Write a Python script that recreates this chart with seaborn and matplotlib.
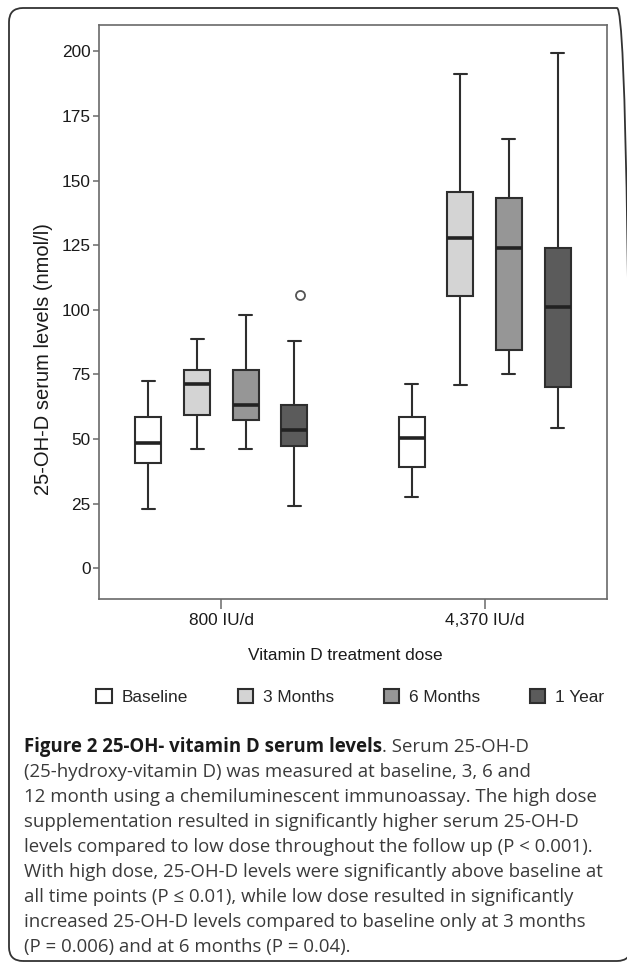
# libraries
import pandas as pd
import matplotlib.pyplot as plt
import seaborn as sns
from matplotlib.patches import FancyBboxPatch

# data
doses = ['800 IU/d', '4,370 IU/d']
times = ['Baseline', '3 Months', '6 Months', '1 Year']
box_colors = ['#ffffff', '#d4d4d4', '#969696', '#5b5b5b']

# five-number summaries per box: whisker low, Q1, median, Q3, whisker high
low_dose = [
    [22.9, 40.6, 48.6, 58.6, 72.5],
    [46.0, 59.4, 71.2, 76.6, 88.6],
    [46.0, 57.3, 63.1, 76.6, 97.9],
    [24.2, 47.4, 53.5, 63.3, 87.8],
]
high_dose = [
    [27.6, 39.2, 50.5, 58.6, 71.2],
    [70.8, 105.5, 127.7, 145.5, 191.2],
    [75.2, 84.4, 123.9, 143.1, 166.0],
    [54.3, 70.3, 101.0, 123.9, 199.3],
]

# single outlier
outlier_dose = ['800 IU/d']
outlier_time = ['1 Year']
outlier_value = [105.7]

yticks = [0, 25, 50, 75, 100, 125, 150, 175, 200]

caption_bold = 'Figure 2 25-OH- vitamin D serum levels'
caption_lines = [
    '. Serum 25-OH-D',
    '(25-hydroxy-vitamin D) was measured at baseline, 3, 6 and',
    '12 month using a chemiluminescent immunoassay. The high dose',
    'supplementation resulted in significantly higher serum 25-OH-D',
    'levels compared to low dose throughout the follow up (P < 0.001).',
    'With high dose, 25-OH-D levels were significantly above baseline at',
    'all time points (P \u2264 0.01), while low dose resulted in significantly',
    'increased 25-OH-D levels compared to baseline only at 3 months',
    '(P = 0.006) and at 6 months (P = 0.04).',
]

# long form table
rows = []
for dose, boxes in zip(doses, [low_dose, high_dose]):
    for t, vals in zip(times, boxes):
        for v in vals:
            rows.append((dose, t, v))
df = pd.DataFrame(rows, columns=['dose', 'time', 'value'])
out = pd.DataFrame({'dose': outlier_dose, 'time': outlier_time, 'value': outlier_value})

sns.set_style('ticks')
plt.rcParams['font.family'] = ['Liberation Sans', 'DejaVu Sans']

W, H = 627, 964
fig = plt.figure(figsize=(W / 100, H / 100), dpi=100)
ax = fig.add_axes([99 / W, 1 - 599 / H, 508 / W, 574 / H])

box_width = 0.74
sns.boxplot(data=df, x='dose', y='value', hue='time', order=doses, hue_order=times,
            palette=box_colors, width=box_width, gap=0.466, whis=(0, 100),
            showfliers=False, linewidth=1.5, linecolor='#2e2e2e',
            medianprops={'linewidth': 2.6, 'color': '#222222'}, ax=ax)

# pull the legend handles from seaborn, re-place below the plot
leg = ax.get_legend()
handles = leg.legend_handles
labels = [t.get_text() for t in leg.get_texts()]
leg.remove()

sns.stripplot(data=out, x='dose', y='value', hue='time', order=doses, hue_order=times,
              palette=['white'] * 4, dodge=True, jitter=False, size=6.5,
              edgecolor='#555555', linewidth=1.3, legend=False, zorder=5, ax=ax)
# stripplot dodges over 0.8, the boxes over box_width
coll = ax.collections[-1]
offs = coll.get_offsets()
centers = offs[:, 0].round()
offs[:, 0] = centers + (offs[:, 0] - centers) * box_width / 0.8
coll.set_offsets(offs)

ax.set_xlim(-0.465, 1.465)
ax.set_ylim(-11.9, 210.2)
ax.set_yticks(yticks)
for s in ax.spines.values():
    s.set_visible(True)
    s.set_color('#6a6a6a')
    s.set_linewidth(1.2)
ax.tick_params(axis='both', colors='#6a6a6a', labelcolor='#1a1a1a', labelsize=12.4, width=1.1)
ax.tick_params(axis='y', length=4.5, pad=1.5)
ax.tick_params(axis='x', length=7, pad=3)

ax.set_xlabel('Vitamin D treatment dose', fontsize=12.4, color='#1a1a1a')
ax.xaxis.set_label_coords(0.485, -0.085)
ax.set_ylabel('25-OH-D serum levels (nmol/l)', fontsize=14.5, color='#1a1a1a')
ax.yaxis.set_label_coords(-0.110, 0.418)
ax.yaxis.label.set_va('center')

fig.legend(handles, labels, loc='center', bbox_to_anchor=(350 / W, 1 - 697 / H),
           ncol=4, frameon=False, fontsize=12.4, handlelength=0.9, handleheight=0.9,
           handletextpad=0.55, columnspacing=2.9)

# caption
cap_font = ['Open Sans', 'DejaVu Sans']
cap_size = 13.4
x0 = 24 / W
y0 = 1 - 752 / H
dy = 25 / H
t = fig.text(x0, y0, caption_bold, fontsize=cap_size, fontweight='bold',
             family=cap_font, color='#1a1a1a', va='baseline')
fig.canvas.draw()
bb = t.get_window_extent(renderer=fig.canvas.get_renderer())
fig.text(bb.x1 / W, y0, caption_lines[0], fontsize=cap_size, family=cap_font,
         color='#3a3a3a', va='baseline')
for i, line in enumerate(caption_lines[1:], start=1):
    fig.text(x0, y0 - i * dy, line, fontsize=cap_size, family=cap_font,
             color='#3a3a3a', va='baseline')

# rounded frame round the whole figure
frame = FancyBboxPatch((0.09, 0.03), 6.22, 9.53, boxstyle='round,pad=0,rounding_size=0.14',
                       transform=fig.dpi_scale_trans, fill=False, edgecolor='#333333',
                       linewidth=1.3)
fig.patches.append(frame)

fig.savefig('out.png', dpi=100)
